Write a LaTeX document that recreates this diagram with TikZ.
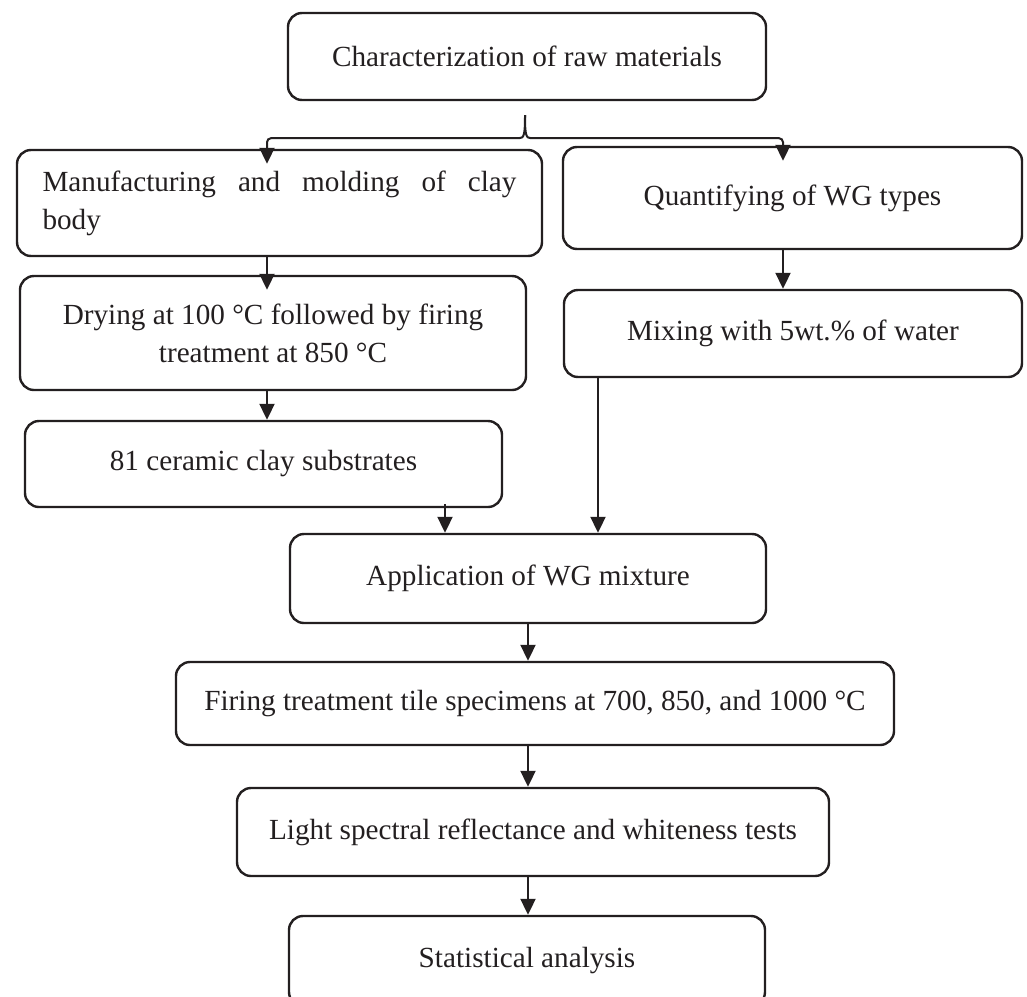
\documentclass[tikz,border=0pt]{standalone}
\usepackage{fontspec}
\setmainfont{Liberation Serif}
\usetikzlibrary{arrows.meta,calc}
\definecolor{ink}{RGB}{35,31,32}
\begin{document}
\begin{tikzpicture}[x=1pt,y=-1pt,
  box/.style={draw=ink, line width=2.4pt, rounded corners=14pt, inner sep=0pt,
    font=\fontsize{29.2}{38}\selectfont, text=ink},
  conn/.style={draw=ink, line width=2pt, -{Triangle[length=16pt,width=15pt]}},
  into/.style={shorten >=-15pt},
]
\useasboundingbox (0,0) rectangle (1027,996);
\clip (0,0) rectangle (1027,996);

% process boxes
\node[box, minimum width=478pt, minimum height=87pt] (top) at (527,56.5)
  {Characterization of raw materials};
\node[box, minimum width=525pt, minimum height=106pt, text width=474pt, align=justify] (manu) at (279.5,203)
  {Manufacturing and molding of clay\linebreak body};
\node[box, minimum width=459pt, minimum height=102pt] (quant) at (792.5,198)
  {Quantifying of WG types};
\node[box, minimum width=506pt, minimum height=114pt, align=center] (dry) at (273,333)
  {Drying at 100 °C followed by firing\\treatment at 850 °C};
\node[box, minimum width=458pt, minimum height=87pt] (mix) at (793,333.5)
  {Mixing with 5wt.\% of water};
\node[box, minimum width=477pt, minimum height=86pt] (sub) at (263.5,464)
  {81 ceramic clay substrates};
\node[box, minimum width=476pt, minimum height=89pt] (app) at (528,578.5)
  {Application of WG mixture};
\node[box, minimum width=718pt, minimum height=83pt] (fire) at (535,703.5)
  {Firing treatment tile specimens at 700, 850, and 1000 °C};
\node[box, minimum width=592pt, minimum height=88pt] (light) at (533,832)
  {Light spectral reflectance and whiteness tests};
\node[box, minimum width=476pt, minimum height=90pt] (stat) at (527,961)
  {Statistical analysis};

% connector columns
\coordinate (lx) at (267,0);
\coordinate (rx) at (783,0);
\coordinate (sx) at (445,0);
\coordinate (mx) at (598,0);
\coordinate (cx) at (528,0);

% brace splitting into the two branches
\coordinate (bt) at ([xshift=-2pt,yshift=-14pt]top.south);
\coordinate (bmid) at ($(bt)+(0,23)$);
\draw[conn, into] (bt) .. controls ($(bt)+(0,20)$) and ($(bmid)+(-1,0)$) .. ($(bmid)+(-6,0)$)
  [rounded corners=4pt] -- (lx |- bmid) -- (lx |- manu.north);
\draw[conn, into] (bt) .. controls ($(bt)+(0,20)$) and ($(bmid)+(1,0)$) .. ($(bmid)+(6,0)$)
  [rounded corners=4pt] -- (rx |- bmid) -- (rx |- quant.north);

% flow arrows
\draw[conn, into] (lx |- manu.south) -- (lx |- dry.north);
\draw[conn] (lx |- dry.south) -- (lx |- sub.north);
\draw[conn] (rx |- quant.south) -- (rx |- mix.north);
\draw[conn] ([yshift=4pt]sx |- sub.south) -- (sx |- app.north);
\draw[conn] (mx |- mix.south) -- (mx |- app.north);
\draw[conn] (cx |- app.south) -- (cx |- fire.north);
\draw[conn] (cx |- fire.south) -- (cx |- light.north);
\draw[conn] (cx |- light.south) -- (cx |- stat.north);
\end{tikzpicture}
\end{document}
